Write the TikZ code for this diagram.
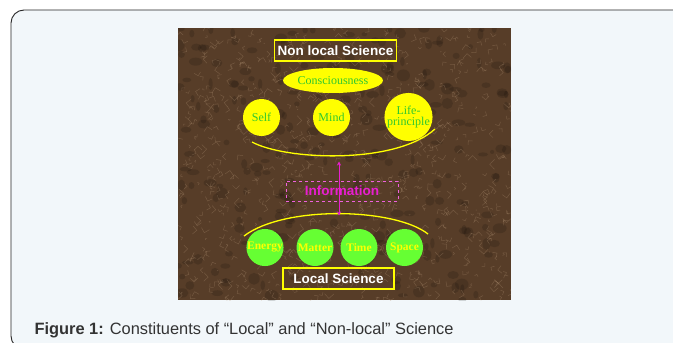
\documentclass[tikz,border=0pt]{standalone}
\usepackage{fontspec}
\setmainfont{Liberation Serif}
\setsansfont{Liberation Sans}
\usetikzlibrary{arrows.meta,shapes.geometric}

\definecolor{panel}{HTML}{F2F7FA}
\definecolor{bark}{HTML}{573D28}
\definecolor{barklight}{HTML}{BFA080}
\definecolor{sun}{HTML}{FFFF00}
\definecolor{leaf}{HTML}{66FF33}
\definecolor{txtgreen}{HTML}{2FC82F}
\definecolor{mag}{HTML}{E81ED0}
\definecolor{captxt}{HTML}{333333}

\begin{document}
\begin{tikzpicture}[x=1pt,y=-1pt,
    title/.style={draw=sun,line width=1.2pt,inner sep=0pt,minimum height=21pt,
      text=white,font=\sffamily\bfseries\fontsize{13.5}{14}\selectfont},
    upper/.style={circle,fill=sun,text=txtgreen,inner sep=0pt,minimum size=37pt,
      font=\fontsize{12}{11.5}\selectfont,align=center},
    lower/.style={circle,fill=leaf,text=sun,inner sep=0pt,minimum size=37pt,
      font=\bfseries\fontsize{11.5}{11}\selectfont},
    bow/.style={sun,line width=1.3pt}]
    \useasboundingbox (0,0) rectangle (673,343);

    % panel and picture
    \draw[fill=panel,draw=black!85,line width=0.9pt,rounded corners=13pt] (11,10) rectangle (690,349);
    \fill[bark] (178,28) rectangle (511,300);
    \begin{scope}
        \clip (178,28) rectangle (511,300);
        \pgfmathsetseed{11}
        \foreach \i in {1,...,260} {
            \pgfmathsetmacro{\px}{178+rnd*333}
            \pgfmathsetmacro{\py}{28+rnd*272}
            \fill[black,opacity=0.14] (\px,\py) ellipse ({2+rnd*5} and {2+rnd*4});
        }
        \foreach \i in {1,...,900} {
            \pgfmathsetmacro{\px}{178+rnd*333}
            \pgfmathsetmacro{\py}{28+rnd*272}
            \pgfmathsetmacro{\dx}{(rnd-0.5)*10}
            \pgfmathsetmacro{\dy}{(rnd-0.5)*10}
            \draw[barklight,opacity=0.28,line width=0.5pt,line cap=round] (\px,\py) -- ++(\dx,\dy) -- ++(\dy,-\dx);
        }
    \end{scope}

    % non local part
    \node[title,minimum width=122pt] (nonlocal) at (335.5,50.5) {Non local Science};
    \node[ellipse,fill=sun,text=txtgreen,inner sep=0pt,minimum width=84pt,minimum height=25pt,
          font=\fontsize{12}{11}\selectfont] (consc) at (333,80.5) {Consciousness};
    \node[upper] (self) at (261.5,117.5) {Self};
    \node[upper] (mind) at (331.5,117.5) {Mind};
    \node[upper,minimum size=46pt] (life) at (408.5,117) {Life-\\principle};

    \draw[bow] (252,142) .. controls (285,160) and (395,165) .. (435,129);
    \coordinate (arcTop) at (339,161.5);

    % information
    \node[draw=mag!70,dashed,line width=0.4pt,minimum width=112pt,minimum height=20pt,inner sep=0pt,
          text=mag,font=\sffamily\bfseries\fontsize{13.5}{14}\selectfont] (info) at (342,191) {Information};

    % local part
    \draw[bow] (244,236) .. controls (285,205) and (395,208) .. (428,234);
    \coordinate (arcBot) at (339,215.5);
    \draw[mag,line width=1pt,{Stealth[length=4pt,width=4pt]}-{Stealth[length=4pt,width=4pt]}] (arcTop) -- (arcBot);

    \node[lower] (energy) at (265,247.5) {Energy};
    \node[lower] (matter) at (315,247.5) {Matter};
    \node[lower] (time) at (359,247.5) {Time};
    \node[lower] (space) at (404.5,247.5) {Space};
    \node[title,minimum width=111pt] (local) at (338.5,278.5) {Local Science};

    % caption
    \node[anchor=west,text=captxt,font=\sffamily\fontsize{16.4}{17}\selectfont] (caption) at (31,330)
        {\textbf{Figure 1:} Constituents of “Local” and “Non-local” Science};
\end{tikzpicture}
\end{document}
